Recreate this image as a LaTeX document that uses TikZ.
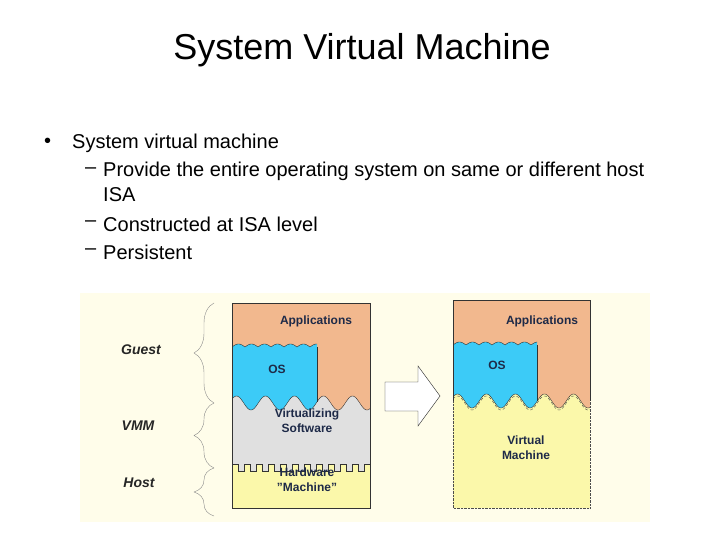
\documentclass[tikz,border=0pt]{standalone}
\usepackage{fontspec}
\setmainfont{Liberation Sans}
\usetikzlibrary{decorations.pathreplacing}
\definecolor{bg}{HTML}{FFFDEA}
\definecolor{org}{HTML}{F2B88E}
\definecolor{blu}{HTML}{3CCBF7}
\definecolor{gry}{HTML}{E0E0E0}
\definecolor{ylw}{HTML}{FBF8AA}
\definecolor{txt}{HTML}{1E2A48}
\tikzset{
  bul/.style={anchor=west,font=\fontsize{20}{22}\selectfont,inner sep=0},
  lab/.style={font=\fontsize{14}{16}\selectfont\bfseries\itshape,text=black!85},
  box/.style={font=\fontsize{12}{15}\selectfont\bfseries,text=txt,align=center,inner sep=0},
  brc/.style={draw=black!45,decorate,decoration={brace,amplitude=20pt}},
}
\begin{document}
\begin{tikzpicture}[x=1pt,y=-1pt]
\useasboundingbox (0,0) rectangle (720,540);
\node[font=\fontsize{36}{40}\selectfont] (title) at (362,50) {System Virtual Machine};
\node[bul] (b0) at (44,143) {•};
\node[bul] (l1) at (72,143) {System virtual machine};
\node[bul] (d1) at (85,171) {–};
\node[bul] (l2) at (103,171) {Provide the entire operating system on same or different host};
\node[bul] (l2b) at (103,195) {ISA};
\node[bul] (d2) at (85,224) {–};
\node[bul] (l3) at (103,224) {Constructed at ISA level};
\node[bul] (d3) at (85,252) {–};
\node[bul] (l4) at (103,252) {Persistent};
% figure background
\fill[bg] (80,293) rectangle (650,522);
% ---------- left stack
\begin{scope}
\clip (232,303) rectangle (370,508);
\fill[ylw] (232,303) rectangle (370,508);
\fill[gry] (232,303) rectangle (370,471);
\fill[ylw] (232,508) -- (232,471) \foreach \i in {0,...,11}{ -- ++(0,-7) -- ++(6,0) -- ++(0,7) -- ++(6,0)} -- (380,471) -- (380,508) -- cycle;
\draw[black!80] (232,471) \foreach \i in {0,...,11}{ -- ++(0,-7) -- ++(6,0) -- ++(0,7) -- ++(6,0)};
\fill[org] (232,303) -- (370,303) -- plot[domain=370:232,samples=120] (\x,{403+7*cos(360/29*(\x-251))}) -- cycle;
\fill[blu] plot[domain=232:317,samples=120] (\x,{347-3*abs(sin(180/13*(\x-232)))}) -- plot[domain=317:232,samples=120] (\x,{403+7*cos(360/29*(\x-251))}) -- cycle;
\draw[black!80] plot[domain=232:317,samples=120] (\x,{347-3*abs(sin(180/13*(\x-232)))});
\draw[black!80] (317,347) -- (317,{403+7*cos(360/29*(317-251))});
\draw[black!80] plot[domain=232:370,samples=150] (\x,{403+7*cos(360/29*(\x-251))});
\end{scope}
\draw[black!80] (232,303) rectangle (370,508);
% ---------- right stack
\begin{scope}
\clip (453,300) rectangle (590,508);
\fill[ylw] (453,300) rectangle (590,508);
\fill[org] (453,300) -- (590,300) -- plot[domain=590:453,samples=120] (\x,{401+7*cos(360/29*(\x-472))}) -- cycle;
\fill[blu] plot[domain=453:537,samples=120] (\x,{345-3*abs(sin(180/13*(\x-453)))}) -- plot[domain=537:453,samples=120] (\x,{401+7*cos(360/29*(\x-472))}) -- cycle;
\draw[black!80] plot[domain=453:537,samples=120] (\x,{345-3*abs(sin(180/13*(\x-453)))});
\draw[black!80] (537,345) -- (537,{401+7*cos(360/29*(537-472))});
\draw[black!80] plot[domain=453:590,samples=150] (\x,{401+7*cos(360/29*(\x-472))});
\draw[black!70,densely dashed] plot[domain=453:590,samples=150] (\x,{403+7*cos(360/29*(\x-472))});
\end{scope}
\draw[black!80] (453,401) -- (453,300) -- (590,300) -- (590,401);
\draw[black!70,densely dotted] (453,401) -- (453,508) -- (590,508) -- (590,401);
% ---------- arrow
\draw[black!85,fill=white] (385,382) -- (418,382) -- (418,366) -- (440,396) -- (418,426) -- (418,411) -- (385,411) -- cycle;
% ---------- texts in boxes
\node[box] (app1) at (316,321) {Applications};
\node[box] (os1) at (277,369) {OS};
\node[box] (vs) at (307,421) {Virtualizing\\Software};
\node[box] (hw) at (307,480) {Hardware\\"Machine"};
\node[box] (app2) at (542,321) {Applications};
\node[box] (os2) at (497,365) {OS};
\node[box] (vm) at (526,448) {Virtual\\Machine};
% ---------- braces and labels
\coordinate (g1) at (214,303); \coordinate (g2) at (214,403);
\coordinate (v2) at (214,468); \coordinate (h2) at (214,516);
\draw[brc] (g2) -- (g1);
\draw[brc] (v2) -- (g2);
\draw[brc] (h2) -- (v2);
\node[lab] (guest) at (141,350) {Guest};
\node[lab] (vmm) at (138,426) {VMM};
\node[lab] (host) at (139,483) {Host};
\end{tikzpicture}
\end{document}
